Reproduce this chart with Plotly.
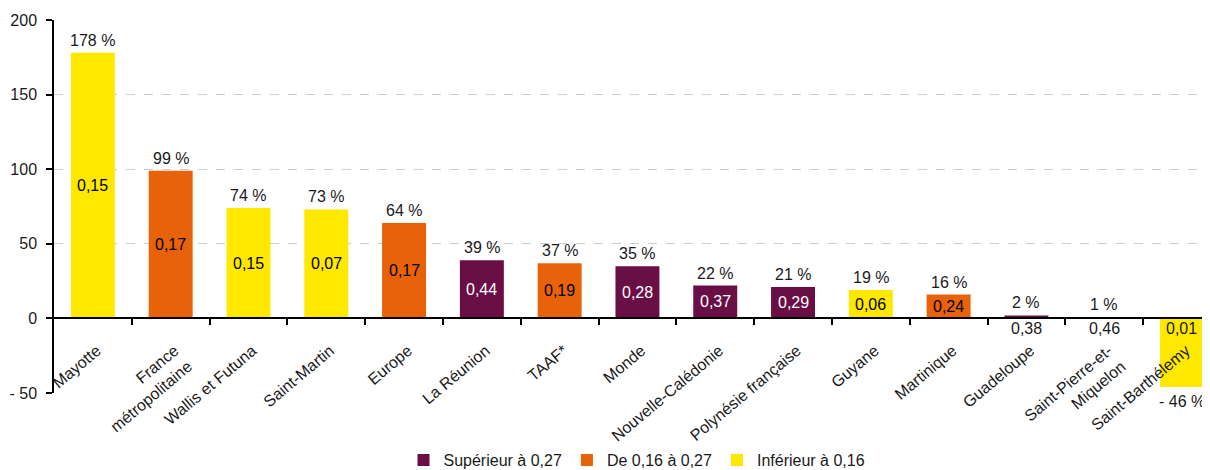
import plotly.graph_objects as go

categories = ["Mayotte", "France<br>métropolitaine", "Wallis et Futuna", "Saint-Martin", "Europe",
              "La Réunion", "TAAF*", "Monde", "Nouvelle-Calédonie", "Polynésie française",
              "Guyane", "Martinique", "Guadeloupe", "Saint-Pierre-et-<br>Miquelon", "Saint-Barthélemy"]
growth = [178, 99, 74, 73, 64, 39, 37, 35, 22, 21, 19, 16, 2, 1, -46]
index_vals = [0.15, 0.17, 0.15, 0.07, 0.17, 0.44, 0.19, 0.28, 0.37, 0.29, 0.06, 0.24, 0.38, 0.46, 0.01]
y_ticks = [-50, 0, 50, 100, 150, 200]
y_ticktext = ["- 50", "0", "50", "100", "150", "200"]

groups = [
    ("Supérieur à 0,27", "#6A0E46", lambda v: v > 0.27, "white"),
    ("De 0,16 à 0,27", "#E8620A", lambda v: 0.16 <= v <= 0.27, "black"),
    ("Inférieur à 0,16", "#FFE800", lambda v: v < 0.16, "black"),
]

# page body keeps an 8px default margin, so the figure is sized/positioned to compensate
W, H = 1202, 470
L, T, B = 46, 12, 85
FONT = "Liberation Sans, Arial, Helvetica, sans-serif"
fig = go.Figure()
text_color = {}
for name, color, cond, tcol in groups:
    idx = [i for i, v in enumerate(index_vals) if cond(v)]
    for i in idx:
        text_color[i] = tcol
    fig.add_trace(go.Bar(
        x=idx, y=[growth[i] for i in idx], name=name,
        marker=dict(color=color, line=dict(width=0)), width=0.565,
    ))

annotations = []
for i, (g, v) in enumerate(zip(growth, index_vals)):
    pct = ("- " + str(abs(g)) if g < 0 else str(g)) + " %"
    if g >= 0:
        annotations.append(dict(x=i, y=g, text=pct, showarrow=False, yanchor="bottom", yshift=2,
                                font=dict(size=16, color="#1a1a1a", family=FONT)))
    else:
        annotations.append(dict(x=i, y=g, text=pct, showarrow=False, yanchor="top", yshift=-4,
                                font=dict(size=16, color="#1a1a1a", family=FONT)))
    lab = f"{v:.2f}".replace(".", ",")
    if g > 10:
        ypos, col = g / 2, text_color[i]
    else:
        ypos, col = -7, "#1a1a1a"
    annotations.append(dict(x=i, y=ypos, text=lab, showarrow=False, yanchor="middle",
                            font=dict(size=16, color=col, family=FONT)))

ydom = [B / H, 1 - T / H]
ymin, ymax = -50, 200
zero_pos = ydom[0] + (0 - ymin) / (ymax - ymin) * (ydom[1] - ydom[0])

fig.update_layout(
    width=W, height=H,
    margin=dict(l=0, r=0, t=0, b=0),
    paper_bgcolor="white", plot_bgcolor="white",
    barmode="overlay",
    font=dict(family=FONT, size=16, color="#1a1a1a"),
    annotations=annotations,
    showlegend=True,
    legend=dict(orientation="h", x=629 / W, xanchor="center", y=18 / H, yanchor="middle",
                font=dict(size=16, family=FONT), itemwidth=30, traceorder="normal",
                bgcolor="rgba(0,0,0,0)"),
)
fig.update_xaxes(
    domain=[L / W, 1], automargin=False,
    range=[-0.5, 14.36], tickvals=list(range(len(categories))), ticktext=categories,
    tickangle=-40, ticks="", showgrid=False, zeroline=False,
    showline=True, linecolor="black", linewidth=1.5,
    anchor="free", position=zero_pos,
    ticklabelstandoff=16, ticklabelshift=4,
    tickfont=dict(size=16, family=FONT, color="#1a1a1a"),
    minor=dict(tickvals=[k + 0.5 for k in range(14)], ticks="outside", ticklen=6,
               tickcolor="black", tickwidth=1.5),
)
fig.update_yaxes(
    domain=ydom, automargin=False,
    range=[ymin, ymax], tickvals=y_ticks, ticktext=y_ticktext,
    ticks="outside", ticklen=6, tickcolor="black", tickwidth=1.5,
    showline=True, linecolor="black", linewidth=1.5,
    showgrid=True, gridcolor="#cccccc", griddash="dash", gridwidth=1,
    zeroline=False, ticklabelstandoff=6,
    tickfont=dict(size=16, family=FONT, color="#1a1a1a"),
)
fig.write_html("out.html")
